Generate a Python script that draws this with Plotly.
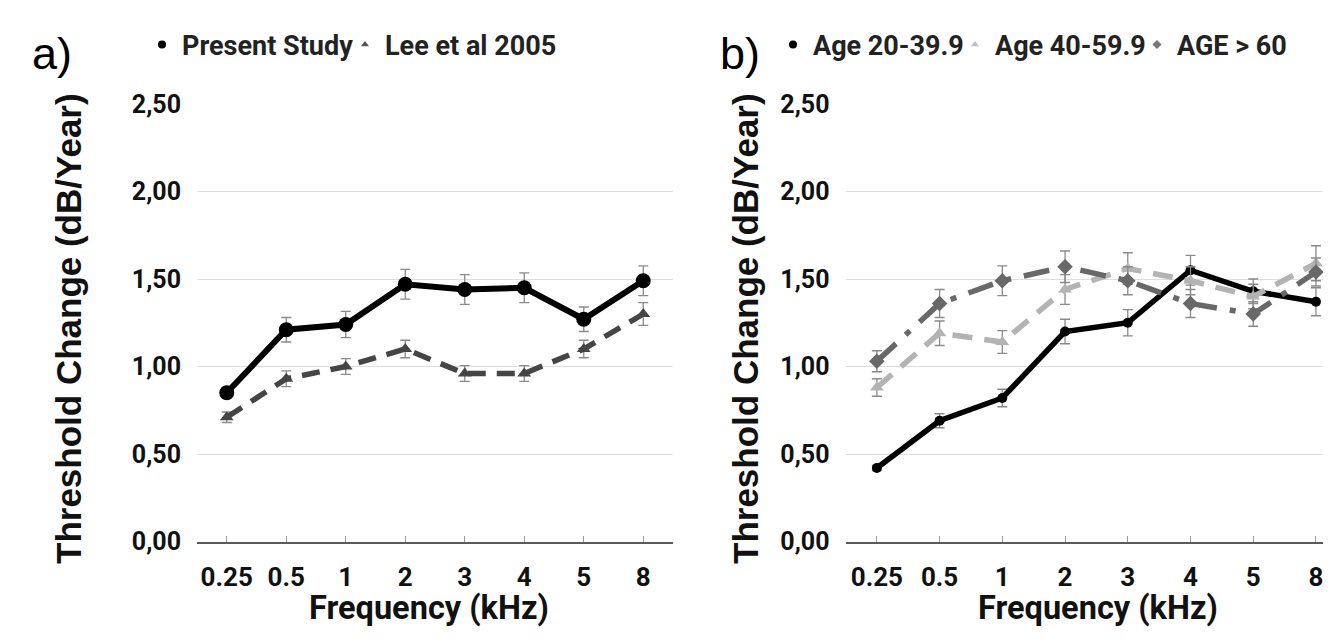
import plotly.graph_objects as go

freqs = ["0.25", "0.5", "1", "2", "3", "4", "5", "8"]

# Panel a
present_study = [0.85, 1.21, 1.24, 1.47, 1.44, 1.45, 1.27, 1.49]
present_err = [0.03, 0.07, 0.075, 0.085, 0.085, 0.085, 0.07, 0.085]
lee_2005 = [0.71, 0.93, 1.00, 1.10, 0.96, 0.96, 1.10, 1.30]
lee_err = [0.03, 0.045, 0.045, 0.05, 0.045, 0.045, 0.05, 0.065]

# Panel b
age_20_39 = [0.42, 0.69, 0.82, 1.20, 1.25, 1.55, 1.43, 1.37]
age_20_39_err = [0.015, 0.04, 0.05, 0.07, 0.075, 0.085, 0.07, 0.08]
age_40_59 = [0.88, 1.19, 1.14, 1.44, 1.56, 1.49, 1.40, 1.59]
age_40_59_err = [0.05, 0.07, 0.065, 0.085, 0.09, 0.08, 0.07, 0.1]
age_60 = [1.03, 1.36, 1.49, 1.57, 1.49, 1.36, 1.30, 1.54]
age_60_err = [0.06, 0.08, 0.085, 0.09, 0.08, 0.08, 0.07, 0.08]

yticks = [0, 0.5, 1.0, 1.5, 2.0, 2.5]

# page is shown with the default 8px body margin -> figure placed at (8, 8)
OFF = 8
W, H = 1331 - OFF, 644 - OFF
ERR = dict(type="data", color="#8a8a8a", thickness=1.3, width=5)

fig = go.Figure()

def px_x(p):
    return (p - OFF) / W

def px_y(p):
    return 1 - (p - OFF) / H

legfont = dict(family="Roboto", size=27, color="#222222", weight="bold")
legend_defs = {}

def add_series(x_ax, y_ax, y, err, color, dash, lw, symbol, msize):
    fig.add_trace(go.Scatter(
        x=freqs, y=y, xaxis=x_ax, yaxis=y_ax, mode="lines+markers",
        line=dict(color=color, width=lw, dash=dash),
        marker=dict(symbol=symbol, size=msize, color=color),
        error_y=dict(array=err, **ERR), showlegend=False, cliponaxis=False))

def add_legend_item(name, color, symbol, size, legend, text_x):
    fig.add_trace(go.Scatter(
        x=[None], y=[None], mode="markers", name=name,
        marker=dict(symbol=symbol, size=size, color=color),
        showlegend=True, legend=legend))
    legend_defs[legend] = dict(
        orientation="h", x=px_x(text_x - 40), y=px_y(45), xref="container", yref="container",
        xanchor="left", yanchor="middle", font=legfont, itemwidth=30,
        bgcolor="rgba(0,0,0,0)", borderwidth=0)

# panel a traces
add_series("x", "y", lee_2005, lee_err, "#454545", "18px,11px", 5.5, "triangle-up", 12)
add_series("x", "y", present_study, present_err, "#000000", "solid", 6, "circle", 15)
add_legend_item("Present Study", "#000000", "circle", 8, "legend", 182)
add_legend_item("Lee et al 2005", "#555555", "triangle-up", 7, "legend2", 385)

# panel b traces
add_series("x2", "y2", age_20_39, age_20_39_err, "#000000", "solid", 5.5, "circle", 10)
add_series("x2", "y2", age_40_59, age_40_59_err, "#b3b3b3", "20px,12px", 5.5, "triangle-up", 12)
add_series("x2", "y2", age_60, age_60_err, "#686868", "26px,13px,6px,13px", 5.5, "diamond", 12)
add_legend_item("Age 20-39.9", "#000000", "circle", 8, "legend3", 813)
add_legend_item("Age 40-59.9", "#c0c0c0", "triangle-up", 7, "legend4", 995)
add_legend_item("AGE > 60", "#777777", "diamond", 7, "legend5", 1177)

ydom = [px_y(541.5), px_y(104)]
tickfont = dict(family="Roboto", size=26, color="#111111", weight="bold")
xtitlefont = dict(family="Roboto", size=32.5, color="#111111", weight="bold")
ytitlefont = dict(family="Liberation Sans, Arial", size=35, color="#111111", weight="bold")

common_x = dict(type="category", showgrid=False, showline=True, linecolor="#5a5a5a", linewidth=2,
                ticks="inside", ticklen=6, tickcolor="#999999", tickwidth=1.3,
                tickfont=tickfont, ticklabelstandoff=11, zeroline=False, automargin=False)
common_y = dict(range=[0, 2.5], tickvals=yticks, tickformat=".2f", showgrid=True,
                gridcolor="#dedede", gridwidth=1.2, zeroline=False, showline=False,
                tickfont=dict(family="Roboto", size=25, color="#111111", weight="bold"),
                ticklabelstandoff=15, automargin=False)

def ann(text, x, y, font, angle=0):
    return dict(text=text, x=px_x(x), y=px_y(y), xref="paper", yref="paper", showarrow=False,
                xanchor="center", yanchor="middle", textangle=angle, font=font)

fig.update_layout(
    width=W, height=H, margin=dict(l=0, r=0, t=0, b=0, autoexpand=False),
    paper_bgcolor="white", plot_bgcolor="white", separators=",.",
    xaxis=dict(domain=[px_x(197), px_x(673)], range=[-0.5, 7.5], anchor="y", **common_x),
    yaxis=dict(domain=ydom, anchor="x", **common_y),
    xaxis2=dict(domain=[px_x(845.5), 1.0], range=[-0.5, 7.24], anchor="y2", **common_x),
    yaxis2=dict(domain=ydom, anchor="x2", **common_y),
    annotations=[
        ann("a)", 52, 53, dict(family="Liberation Sans, Arial", size=45, color="#000000")),
        ann("b)", 740, 53, dict(family="Liberation Sans, Arial", size=45, color="#000000")),
        ann("Threshold Change (dB/Year)", 68, 329, ytitlefont, -90),
        ann("Threshold Change (dB/Year)", 745, 329, ytitlefont, -90),
        ann("Frequency (kHz)", 429, 608, xtitlefont),
        ann("Frequency (kHz)", 1098, 608, xtitlefont),
    ],
    **legend_defs,
)

fig.write_html("out.html")
